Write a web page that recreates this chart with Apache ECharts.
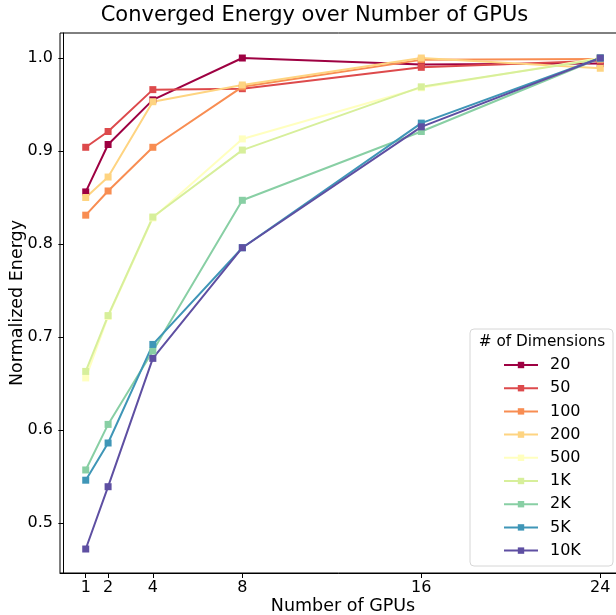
<!DOCTYPE html>
<html>
<head>
<meta charset="utf-8">
<script src="https://cdn.jsdelivr.net/npm/echarts@6/dist/echarts.min.js"></script>
<style>
html,body{margin:0;padding:0;background:#fff;}
#chart{width:616px;height:615px;}
</style>
</head>
<body>
<div id="chart"></div>
<script>
const gpus = [1, 2, 4, 8, 16, 24];
const seriesNames = ['20', '50', '100', '200', '500', '1K', '2K', '5K', '10K'];
const d20  = [0.856, 0.907, 0.955, 1.000, 0.993, 0.994];
const d50  = [0.904, 0.921, 0.966, 0.967, 0.990, 0.997];
const d100 = [0.831, 0.857, 0.904, 0.969, 0.998, 0.999];
const d200 = [0.850, 0.872, 0.953, 0.971, 1.000, 0.989];
const d500 = [0.656, 0.722, 0.828, 0.913, 0.968, 1.000];
const d1k  = [0.663, 0.723, 0.829, 0.901, 0.969, 0.999];
const d2k  = [0.557, 0.606, 0.685, 0.847, 0.921, 1.000];
const d5k  = [0.546, 0.586, 0.692, 0.796, 0.930, 1.000];
const d10k = [0.472, 0.539, 0.677, 0.796, 0.926, 1.000];
const allData = [d20, d50, d100, d200, d500, d1k, d2k, d5k, d10k];
const colors = ['#9e0142', '#dd4a4c', '#f88d52', '#fed481', '#ffffbf', '#d7ef9b', '#88cfa4', '#3f96b7', '#5e4fa2'];
const xTicks = [1, 2, 4, 8, 16, 24];
const yTicks = [0.5, 0.6, 0.7, 0.8, 0.9, 1.0];

const FONT = 'DejaVu Sans';
const chart = echarts.init(document.getElementById('chart'), null, {renderer: 'canvas'});

const series = seriesNames.map((name, k) => ({
  name: name,
  type: 'line',
  data: gpus.map((g, i) => [g, allData[k][i]]),
  symbol: 'rect',
  symbolSize: 7,
  showSymbol: true,
  lineStyle: {width: 2, color: colors[k]},
  itemStyle: {color: colors[k]},
  emphasis: {disabled: true},
  animation: false
}));

chart.setOption({
  animation: false,
  grid: {
    left: 60, top: 33, right: -10, bottom: 42,
    show: true, borderColor: '#000', borderWidth: 1,
    containLabel: false, outerBoundsMode: 'none'
  },
  xAxis: {
    type: 'value',
    min: -0.15, max: 25.15,
    name: 'Number of GPUs',
    nameLocation: 'middle',
    nameGap: 24,
    nameMoveOverlap: false,
    nameTextStyle: {fontFamily: FONT, fontSize: 17.5, color: '#000'},
    axisLine: {show: true, lineStyle: {color: '#000', width: 1}},
    axisTick: {show: true, length: 5, customValues: xTicks, lineStyle: {color: '#000'}},
    axisLabel: {show: true, customValues: xTicks, margin: 7, fontFamily: FONT, fontSize: 16, color: '#000'},
    splitLine: {show: false}
  },
  yAxis: {
    type: 'value',
    min: 0.4462, max: 1.0269,
    name: 'Normalized Energy',
    nameLocation: 'middle',
    nameGap: 34,
    nameMoveOverlap: false,
    nameTextStyle: {fontFamily: FONT, fontSize: 17.5, color: '#000'},
    axisLine: {show: true, lineStyle: {color: '#000', width: 1}},
    axisTick: {show: true, length: 5, customValues: yTicks, lineStyle: {color: '#000'}},
    axisLabel: {show: true, customValues: yTicks, margin: 7, fontFamily: FONT, fontSize: 16, color: '#000',
      formatter: v => Number(v).toFixed(1)},
    splitLine: {show: false}
  },
  legend: {
    orient: 'vertical',
    left: 503, top: 357,
    padding: 0,
    itemWidth: 34, itemHeight: 8, itemGap: 7.2,
    data: seriesNames,
    textStyle: {fontFamily: FONT, fontSize: 16, color: '#000', lineHeight: 16, padding: [0, 0, 0, 7]},
    selectedMode: false
  },
  graphic: [
    {
      type: 'rect', z: 0, zlevel: 0,
      shape: {x: 470, y: 329, width: 143, height: 237, r: 4},
      style: {fill: 'rgba(255,255,255,0.8)', stroke: '#d6d6d6', lineWidth: 1}
    },
    {
      type: 'text', z: 10,
      x: 542, y: 342,
      style: {text: '# of Dimensions', font: '15.3px "DejaVu Sans"', fill: '#000',
        align: 'center', verticalAlign: 'middle', textAlign: 'center', textVerticalAlign: 'middle'}
    },
    {
      type: 'text', z: 10,
      x: 314.5, y: 16,
      style: {text: 'Converged Energy over Number of GPUs', font: '21px "DejaVu Sans"', fill: '#000',
        align: 'center', verticalAlign: 'middle', textAlign: 'center', textVerticalAlign: 'middle'}
    }
  ],
  series: series
});
</script>
</body>
</html>
